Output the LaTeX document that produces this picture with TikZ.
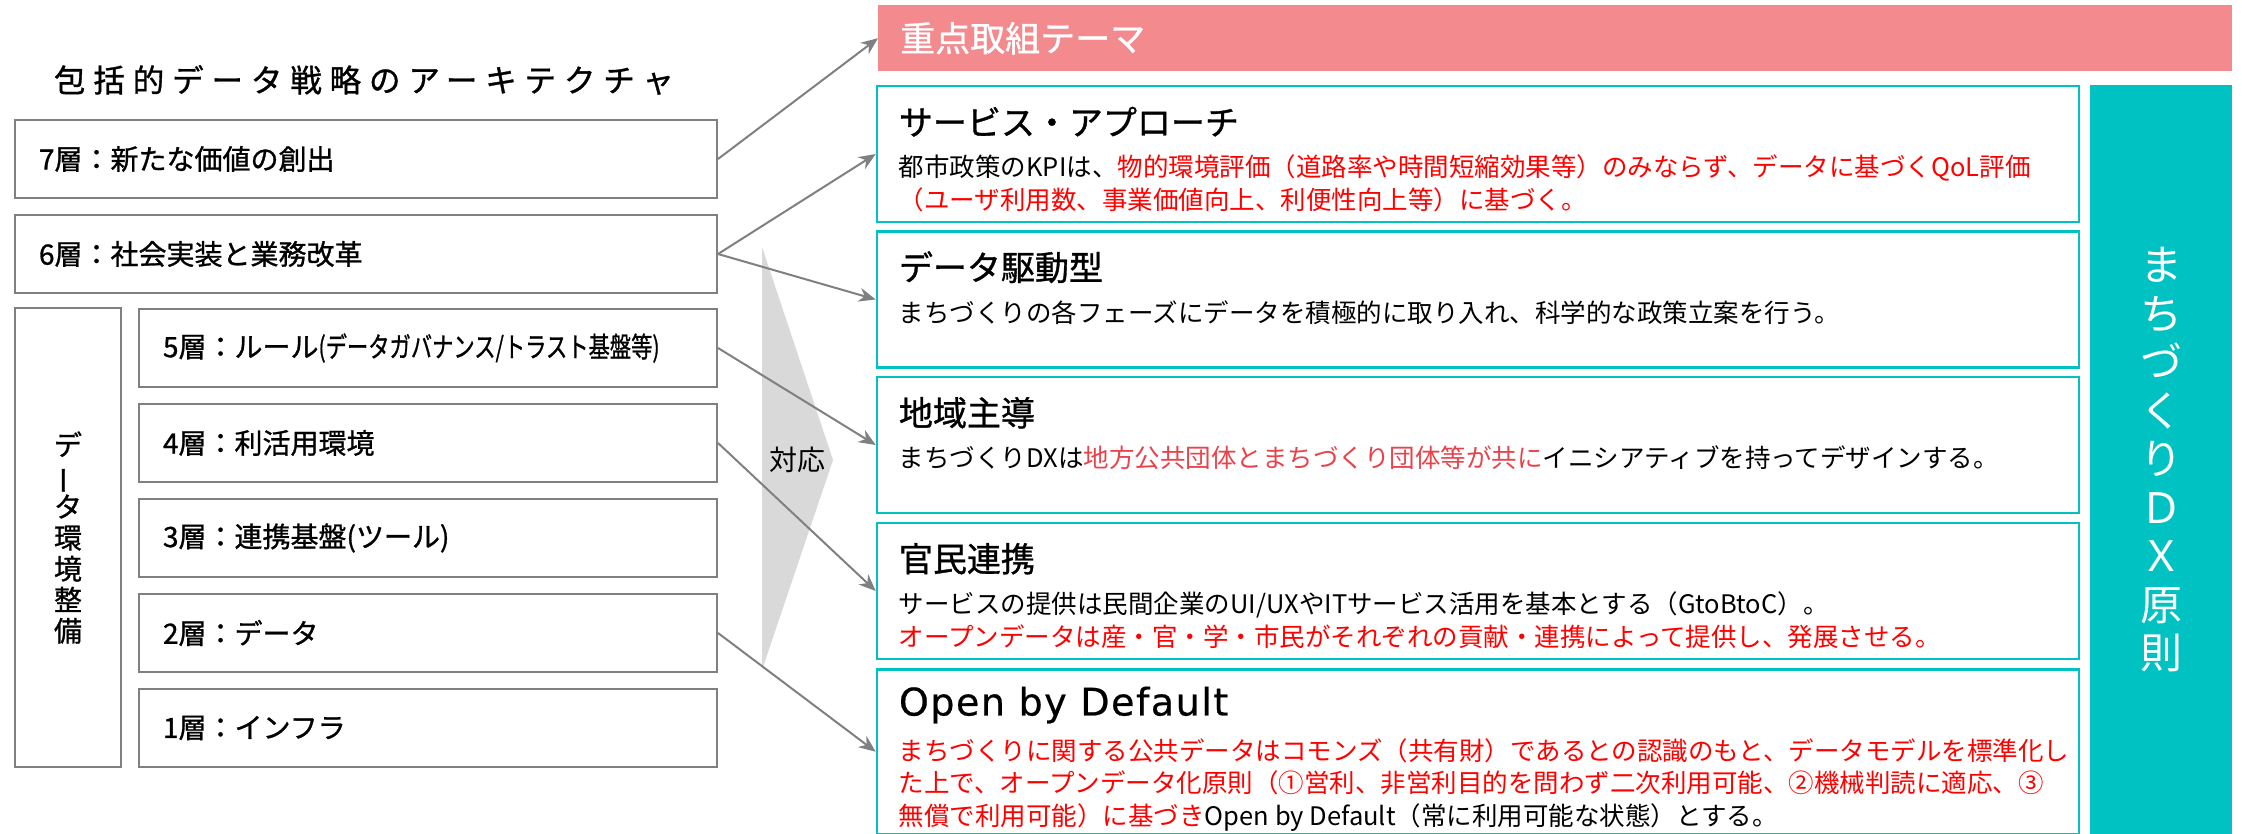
\documentclass[tikz,border=0pt]{standalone}
\usepackage{fontspec}
\setmainfont{Noto Sans CJK JP}
\newfontfamily\spacedfont[LetterSpace=25, FakeBold=1]{Noto Sans CJK JP}
\newfontfamily\medfont[FakeBold=1]{Noto Sans CJK JP}
\newfontfamily\latinfont[FakeBold=0.6, LetterSpace=4]{DejaVu Sans}
\usetikzlibrary{shapes, arrows.meta}
\definecolor{dxteal}{HTML}{00C2C2}
\definecolor{themepink}{HTML}{F28A8E}
\definecolor{linegray}{HTML}{808080}
\definecolor{hlred}{HTML}{FF0000}
\definecolor{softred}{HTML}{E8434B}
\newcommand{\hl}[1]{\textcolor{hlred}{#1}}
\tikzstyle{layer} = [rectangle, draw=linegray, line width=2pt, minimum height=78pt, inner xsep=24pt, text width=654pt, align=left, font=\medfont\fontsize{28}{32}\selectfont]
\tikzstyle{sublayer} = [layer, text width=530pt]
\tikzstyle{principle} = [rectangle, draw=dxteal, line width=2.5pt, minimum width=1202pt, minimum height=136pt]
\tikzstyle{ptitle} = [anchor=west, inner sep=0pt, font=\medfont\fontsize{34}{40}\selectfont]
\tikzstyle{pbody} = [anchor=north west, inner sep=0pt, align=left, font=\fontsize{25.5}{32.5}\selectfont]
\tikzstyle{edge} = [line width=2pt, draw=linegray, -{Stealth[length=17pt, width=14pt]}]

\begin{document}
\begin{tikzpicture}[x=1pt, y=-1pt, node distance=95pt]
\useasboundingbox (0,0) rectangle (2242,834);

% left: architecture layers
\node (title) [font=\spacedfont\fontsize{31.5}{36}\selectfont] at (364,80) {包括的データ戦略のアーキテクチャ};
\node (l7) [layer] at (366,159) {7層：新たな価値の創出};
\node (l6) [layer, below of=l7] {6層：社会実装と業務改革};
\node (l5) [sublayer] at (428,348) {5層：ルール\scalebox{0.76}[1]{(データガバナンス/トラスト基盤等)}};
\node (l4) [sublayer, below of=l5] {4層：利活用環境};
\node (l3) [sublayer, below of=l4] {3層：連携基盤(ツール)};
\node (l2) [sublayer, below of=l3] {2層：データ};
\node (l1) [sublayer, below of=l2] {1層：インフラ};
\node (env) [rectangle, draw=linegray, line width=2pt, minimum width=106pt, minimum height=459pt, align=center, font=\medfont\fontsize{28}{31}\selectfont] at (68,537.5) {デ\\\rotatebox[origin=c]{90}{ー}\\タ\\環\\境\\整\\備};

% middle: correspondence
\fill[gray!30] (762,247) -- (833,460) -- (762,670) -- cycle;
\node (taiou) [font=\fontsize{28}{32}\selectfont] at (797,460) {対応};

% right: themes and principles
\node (theme) [rectangle, fill=themepink, minimum height=66pt, inner xsep=22pt, text width=1310pt, align=left, text=white, font=\medfont\fontsize{35}{40}\selectfont, anchor=north west] at (878,5) {重点取組テーマ};
\node (p1) [principle] at (1478,154) {};
\node (p2) [principle] at (1478,299.5) {};
\node (p3) [principle] at (1478,445) {};
\node (p4) [principle] at (1478,591) {};
\node (p5) [principle, minimum height=165pt, anchor=north] at (1478,668) {};
\node (dx) [rectangle, fill=dxteal, minimum width=142pt, minimum height=749pt, anchor=north west, text=white, align=center, font=\fontsize{42}{48.5}\selectfont] at (2090,85) {ま\\ち\\づ\\く\\り\\Ｄ\\Ｘ\\原\\則};

\node (p1t) [ptitle, xshift=23pt, yshift=-37pt] at (p1.north west) {サービス・アプローチ};
\node (p1b) [pbody, xshift=23pt, yshift=-70pt] at (p1.north west) {都市政策のKPIは、\hl{物的環境評価（道路率や時間短縮効果等）のみならず、データに基づくQoL評価}\\\hl{（ユーザ利用数、事業価値向上、利便性向上等）に基づく。}};
\node (p2t) [ptitle, xshift=23pt, yshift=-37pt] at (p2.north west) {データ駆動型};
\node (p2b) [pbody, xshift=23pt, yshift=-70pt] at (p2.north west) {まちづくりの各フェーズにデータを積極的に取り入れ、科学的な政策立案を行う。};
\node (p3t) [ptitle, xshift=23pt, yshift=-37pt] at (p3.north west) {地域主導};
\node (p3b) [pbody, xshift=23pt, yshift=-70pt] at (p3.north west) {まちづくりDXは\textcolor{softred}{地方公共団体とまちづくり団体等が共に}イニシアティブを持ってデザインする。};
\node (p4t) [ptitle, xshift=23pt, yshift=-37pt] at (p4.north west) {官民連携};
\node (p4b) [pbody, xshift=23pt, yshift=-70pt] at (p4.north west) {サービスの提供は民間企業のUI/UXやITサービス活用を基本とする（GtoBtoC）。\\\hl{オープンデータは産・官・学・市民がそれぞれの貢献・連携によって提供し、発展させる。}};
\node (p5t) [ptitle, font=\latinfont\fontsize{38}{44}\selectfont, xshift=23pt, yshift=-37pt] at (p5.north west) {Open by Default};
\node (p5b) [pbody, xshift=23pt, yshift=-70pt] at (p5.north west) {\hl{まちづくりに関する公共データはコモンズ（共有財）であるとの認識のもと、データモデルを標準化し}\\\hl{た上で、オープンデータ化原則（①営利、非営利目的を問わず二次利用可能、②機械判読に適応、③}\\\hl{無償で利用可能）に基づき}Open by Default（常に利用可能な状態）とする。};

\draw [edge] (l7.east) -- (theme.west);
\draw [edge] (l6.east) -- (p1.west);
\draw [edge] (l6.east) -- (p2.west);
\draw [edge] (l5.east) -- (p3.west);
\draw [edge] (l4.east) -- (p4.west);
\draw [edge] (l2.east) -- (p5.west);

\end{tikzpicture}
\end{document}
